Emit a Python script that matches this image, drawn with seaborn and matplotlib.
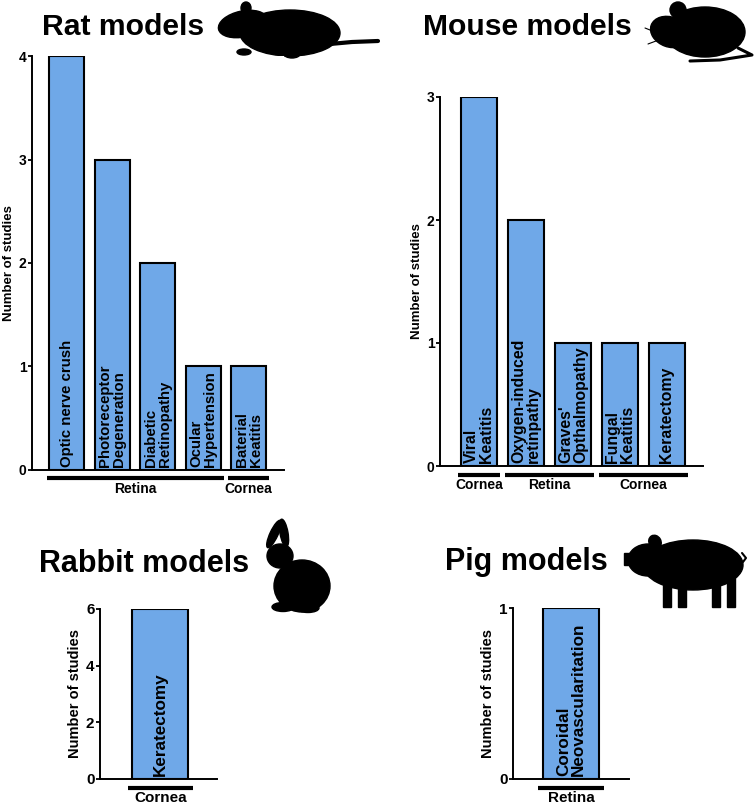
import matplotlib
matplotlib.use("Agg")
import matplotlib.pyplot as plt
from matplotlib.patches import Ellipse, Rectangle
import seaborn as sns

# data
rat_labels = ["Optic nerve crush", "Photoreceptor\nDegeneration", "Diabetic\nRetinopathy",
              "Ocular\nHypertension", "Baterial\nKeatitis"]
rat_counts = [4, 3, 2, 1, 1]
rat_groups = [("Retina", 0, 3), ("Cornea", 4, 4)]

mouse_labels = ["Viral\nKeatitis", "Oxygen-induced\nretinpathy", "Graves'\nOpthalmopathy",
                "Fungal\nKeatitis", "Keratectomy"]
mouse_counts = [3, 2, 1, 1, 1]
mouse_groups = [("Cornea", 0, 0), ("Retina", 1, 2), ("Cornea", 3, 4)]

rabbit_labels = ["Keratectomy"]
rabbit_counts = [6]
rabbit_groups = [("Cornea", 0, 0)]

pig_labels = ["Coroidal\nNeovascularitation"]
pig_counts = [1]
pig_groups = [("Retina", 0, 0)]

BAR = "#6fa8e8"
W, H = 754, 807

sns.set_style("ticks")
plt.rcParams["font.family"] = ["Liberation Sans", "DejaVu Sans"]
plt.rcParams["font.weight"] = "bold"
for key in ["text.color", "axes.labelcolor", "xtick.color", "ytick.color", "axes.edgecolor"]:
    plt.rcParams[key] = "black"

fig = plt.figure(figsize=(7.54, 8.07), dpi=100)


def rect(x0, x1, ytop, ybot):
    return [x0 / W, 1 - ybot / H, (x1 - x0) / W, (ybot - ytop) / H]


def panel(r, labels, counts, groups, yticks, xlim, title, title_xy, title_size, bar_fs, small_fs):
    ax = fig.add_axes(r)
    hpx = r[3] * H
    sns.barplot(x=labels, y=counts, color=BAR, edgecolor="black", linewidth=1.5,
                width=0.77, saturation=1, ax=ax)
    ax.set_xlim(*xlim)
    ax.set_ylim(0, yticks[-1])
    ax.set_yticks(yticks)
    ax.set_yticklabels([str(t) for t in yticks], fontsize=small_fs, fontweight="bold")
    ax.set_xticks([])
    ax.set_xlabel("")
    ax.set_ylabel("Number of studies", fontsize=small_fs - 0.5, fontweight="bold", labelpad=3)
    ax.tick_params(axis="y", length=3, width=1.3, pad=1)
    for s in ["top", "right"]:
        ax.spines[s].set_visible(False)
    for s in ["left", "bottom"]:
        ax.spines[s].set_linewidth(1.4)
    # names inside the bars
    for i, lab in enumerate(labels):
        ax.text(i, 3 / hpx * yticks[-1], lab, rotation=90, ha="center", va="bottom",
                multialignment="left", fontsize=bar_fs, fontweight="bold", linespacing=1.0)
    # tissue groups under the axis
    tr = ax.get_xaxis_transform()
    for name, a, b in groups:
        ax.plot([a - 0.45, b + 0.45], [-8.5 / hpx] * 2, color="black", lw=3,
                transform=tr, clip_on=False, solid_capstyle="butt")
        ax.text((a + b) / 2, -19 / hpx, name, transform=tr, ha="center", va="center",
                fontsize=small_fs)
    fig.text(title_xy[0] / W, 1 - title_xy[1] / H, title, fontsize=title_size,
             fontweight="bold", ha="left", va="baseline")
    return ax


panel(rect(32, 284, 56, 470), rat_labels, rat_counts, rat_groups, [0, 1, 2, 3, 4],
      (-0.77, 4.78), "Rat models", (42, 35), 21.7, 10.8, 10)
panel(rect(440, 703, 97, 466), mouse_labels, mouse_counts, mouse_groups, [0, 1, 2, 3],
      (-0.83, 4.77), "Mouse models", (423, 35), 21.7, 11.4, 10)
panel(rect(100, 217, 609, 779), rabbit_labels, rabbit_counts, rabbit_groups, [0, 2, 4, 6],
      (-0.83, 0.78), "Rabbit models", (39, 572), 22, 12.3, 11)
panel(rect(513, 629, 608, 779), pig_labels, pig_counts, pig_groups, [0, 1],
      (-0.8, 0.8), "Pig models", (445, 570), 22, 12.3, 11)

# rough animal silhouettes in pixel space
deco = fig.add_axes([0, 0, 1, 1], zorder=-1)
deco.set_xlim(0, W)
deco.set_ylim(H, 0)
deco.axis("off")
k = "black"
# rat
deco.add_patch(Ellipse((290, 33), 100, 46, color=k))
deco.add_patch(Ellipse((243, 24), 50, 26, angle=-12, color=k))
deco.add_patch(Ellipse((246, 8), 10, 12, color=k))
deco.plot([330, 352, 378], [44, 42, 41], color=k, lw=3, solid_capstyle="round")
deco.add_patch(Ellipse((244, 52), 14, 6, color=k))
deco.add_patch(Ellipse((292, 54), 16, 8, color=k))
# mouse
deco.add_patch(Ellipse((705, 32), 80, 50, color=k))
deco.add_patch(Ellipse((670, 32), 40, 30, angle=20, color=k))
deco.add_patch(Ellipse((678, 10), 16, 16, color=k))
deco.plot([738, 752, 720, 690], [48, 55, 60, 61], color=k, lw=2.2)
deco.plot([645, 665], [28, 36], color=k, lw=0.8)
deco.plot([648, 664], [44, 38], color=k, lw=0.8)
# rabbit
deco.add_patch(Ellipse((302, 586), 56, 52, color=k))
deco.add_patch(Ellipse((280, 556), 26, 24, color=k))
deco.add_patch(Ellipse((274, 534), 8, 30, angle=25, color=k))
deco.add_patch(Ellipse((284, 533), 8, 28, angle=-10, color=k))
deco.add_patch(Ellipse((283, 607), 22, 9, color=k))
deco.add_patch(Ellipse((308, 608), 22, 9, color=k))
# pig
deco.add_patch(Ellipse((693, 565), 100, 50, color=k))
deco.add_patch(Ellipse((648, 560), 40, 32, color=k))
deco.add_patch(Rectangle((624, 553), 10, 12, color=k))
deco.add_patch(Ellipse((655, 542), 12, 14, angle=-30, color=k))
for lx in (663, 678, 712, 727):
    deco.add_patch(Rectangle((lx, 575), 8, 32, color=k))
deco.plot([742, 746, 743], [553, 558, 562], color=k, lw=1.5)

fig.savefig("out.png", dpi=100)
